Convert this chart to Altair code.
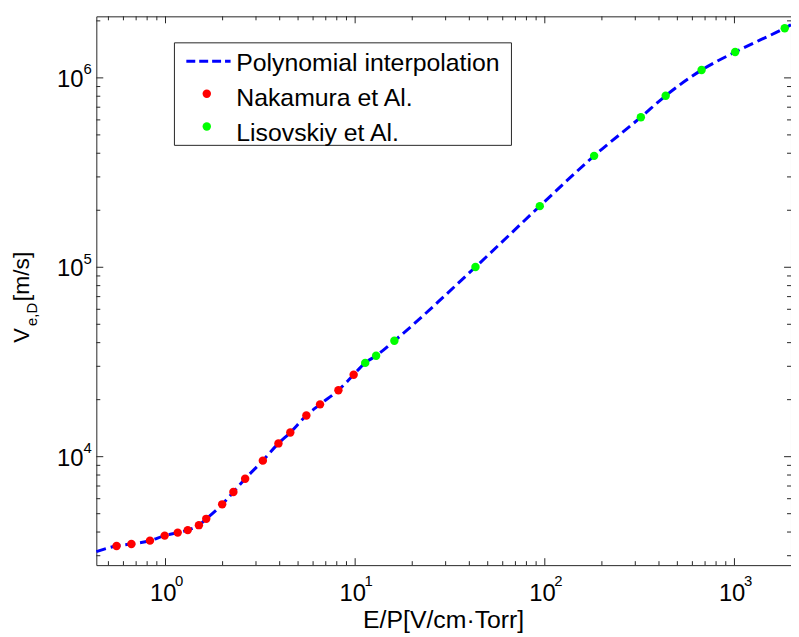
import altair as alt
import pandas as pd

# ---- data ----
nak_x = [0.552, 0.661, 0.828, 0.99, 1.16, 1.31, 1.50, 1.64, 1.99, 2.28, 2.63,
         3.26, 3.94, 4.55, 5.53, 6.53, 8.16, 9.82]
nak_y = [3377, 3461, 3603, 3830, 3972, 4095, 4349, 4696, 5601, 6505, 7640,
         9530, 11750, 13420, 16490, 18890, 22440, 27100]

lis_x = [11.3, 12.9, 16.1, 43.1, 94.1, 182, 321, 434, 671, 1009, 1841]
lis_y = [31270, 34120, 40910, 100300, 210300, 387500, 620200, 805000,
         1100000, 1370000, 1830000]

fit_x = [0.432, 0.552, 0.661, 0.828, 0.99, 1.16, 1.31, 1.50, 1.64, 1.99, 2.28,
         2.63, 3.26, 3.94, 4.55, 5.53, 6.53, 8.16, 9.82, 11.3, 12.9, 16.1,
         43.1, 94.1, 182, 321, 434, 671, 1009, 1841, 1987]
fit_y = [3155, 3377, 3461, 3603, 3830, 3972, 4095, 4349, 4696, 5601, 6505,
         7640, 9530, 11750, 13420, 16490, 18890, 22440, 27100, 31270, 34120,
         40910, 100300, 210300, 387500, 620200, 805000, 1100000, 1370000,
         1830000, 1905000]

x_major = [1, 10, 100, 1000]
x_major_exp = ["0", "1", "2", "3"]
x_minor = [0.5, 0.6, 0.7, 0.8, 0.9, 2, 3, 4, 5, 6, 7, 8, 9,
           20, 30, 40, 50, 60, 70, 80, 90, 200, 300, 400, 500, 600, 700, 800, 900]
y_major = [1e4, 1e5, 1e6]
y_major_exp = ["4", "5", "6"]
y_minor = [3000, 4000, 5000, 6000, 7000, 8000, 9000,
           2e4, 3e4, 4e4, 5e4, 6e4, 7e4, 8e4, 9e4,
           2e5, 3e5, 4e5, 5e5, 6e5, 7e5, 8e5, 9e5, 2e6]

legend_labels = ["Polynomial interpolation", "Nakamura et Al.", "Lisovskiy et Al."]
x_title = "E/P[V/cm·Torr]"

# ---- layout ----
W, H = 700, 553
FONT = "Liberation Sans"
AX = "#262626"
xs = alt.Scale(type="log", domain=[0.4317, 1987], nice=False)
ys = alt.Scale(type="log", domain=[2675, 2.113e6], nice=False)

one = pd.DataFrame({"a": [0]})
DOT = 72
LW = 3
DASH = [10, 5]

fit = alt.Chart(pd.DataFrame({"x": fit_x, "y": fit_y})).mark_line(
    color="#0000ff", strokeWidth=LW, strokeDash=DASH, interpolate="monotone"
).encode(x=alt.X("x:Q", scale=xs, axis=None), y=alt.Y("y:Q", scale=ys, axis=None))

nak = alt.Chart(pd.DataFrame({"x": nak_x, "y": nak_y})).mark_circle(
    size=DOT, opacity=1, color="#ff0000"
).encode(x=alt.X("x:Q", scale=xs, axis=None), y=alt.Y("y:Q", scale=ys, axis=None))

lis = alt.Chart(pd.DataFrame({"x": lis_x, "y": lis_y})).mark_circle(
    size=DOT, opacity=1, color="#00ff00"
).encode(x=alt.X("x:Q", scale=xs, axis=None), y=alt.Y("y:Q", scale=ys, axis=None))


def xticks(vals, length, top):
    y0 = 0 if top else H
    y1 = length if top else H - length
    return alt.Chart(pd.DataFrame({"t": vals})).mark_rule(color=AX, strokeWidth=1).encode(
        x=alt.X("t:Q", scale=xs, axis=None), y=alt.value(y0), y2=alt.value(y1))


def yticks(vals, length, right):
    x0 = W if right else 0
    x1 = W - length if right else length
    return alt.Chart(pd.DataFrame({"t": vals})).mark_rule(color=AX, strokeWidth=1).encode(
        y=alt.Y("t:Q", scale=ys, axis=None), x=alt.value(x0), x2=alt.value(x1))


ticks = [xticks(x_major, 7, False), xticks(x_major, 7, True),
         xticks(x_minor, 4, False), xticks(x_minor, 4, True),
         yticks(y_major, 7, False), yticks(y_major, 7, True),
         yticks(y_minor, 4, False), yticks(y_minor, 4, True)]

xlab_df = pd.DataFrame({"t": x_major, "e": x_major_exp})
xlab = alt.Chart(xlab_df).mark_text(
    align="right", baseline="alphabetic", fontSize=24, font=FONT, dx=11, color="black"
).encode(x=alt.X("t:Q", scale=xs, axis=None), y=alt.value(H + 36), text=alt.value("10"))
xexp = alt.Chart(xlab_df).mark_text(
    align="left", baseline="alphabetic", fontSize=15, font=FONT, dx=9.5, color="black"
).encode(x=alt.X("t:Q", scale=xs, axis=None), y=alt.value(H + 21), text="e:N")

ylab_df = pd.DataFrame({"t": y_major, "e": y_major_exp})
ylab = alt.Chart(ylab_df).mark_text(
    align="right", baseline="alphabetic", fontSize=24, font=FONT, dy=9, color="black"
).encode(y=alt.Y("t:Q", scale=ys, axis=None), x=alt.value(-13), text=alt.value("10"))
yexp = alt.Chart(ylab_df).mark_text(
    align="left", baseline="alphabetic", fontSize=15, font=FONT, dy=-3.5, color="black"
).encode(y=alt.Y("t:Q", scale=ys, axis=None), x=alt.value(-13), text="e:N")

xtitle = alt.Chart(one).mark_text(
    align="center", baseline="alphabetic", fontSize=25, font=FONT, color="black"
).encode(x=alt.value(W / 2), y=alt.value(616), text=alt.value(x_title))

yt_v = alt.Chart(one).mark_text(
    align="left", baseline="alphabetic", fontSize=22, font=FONT, angle=270, color="black"
).encode(x=alt.value(-68), y=alt.value(329), text=alt.value("V"))
yt_sub = alt.Chart(one).mark_text(
    align="left", baseline="alphabetic", fontSize=15, font=FONT, angle=270, color="black"
).encode(x=alt.value(-60), y=alt.value(312), text=alt.value("e,D"))
yt_unit = alt.Chart(one).mark_text(
    align="left", baseline="alphabetic", fontSize=23, font=FONT, angle=270, color="black"
).encode(x=alt.value(-68), y=alt.value(287), text=alt.value("[m/s]"))

# ---- legend ----
leg_box = alt.Chart(one).mark_rect(fill="white", stroke=AX, strokeWidth=1).encode(
    x=alt.value(78.7), x2=alt.value(418.3), y=alt.value(26.7), y2=alt.value(130))
leg_line = alt.Chart(one).mark_rule(color="#0000ff", strokeWidth=LW, strokeDash=[9, 4]).encode(
    x=alt.value(90.7), x2=alt.value(135.3), y=alt.value(45.3))
leg_red = alt.Chart(one).mark_circle(size=DOT, opacity=1, color="#ff0000").encode(
    x=alt.value(111.3), y=alt.value(78))
leg_green = alt.Chart(one).mark_circle(size=DOT, opacity=1, color="#00ff00").encode(
    x=alt.value(111.3), y=alt.value(111))
leg_text = [
    alt.Chart(one).mark_text(align="left", baseline="alphabetic", fontSize=25,
                             font=FONT, color="black").encode(
        x=alt.value(141), y=alt.value(yy), text=alt.value(lab))
    for lab, yy in zip(legend_labels, [55.3, 90, 125.3])
]

chart = alt.layer(
    fit, nak, lis, *ticks, xlab, xexp, ylab, yexp, xtitle, yt_v, yt_sub, yt_unit,
    leg_box, leg_line, leg_red, leg_green, *leg_text
).properties(
    width=W, height=H,
    autosize=alt.AutoSizeParams(type="none"),
    padding={"left": 89, "top": 6, "right": 0, "bottom": 69},
).configure_view(stroke=AX, strokeWidth=1)

chart.save("out.html", embed_options={"renderer": "svg", "actions": False})
